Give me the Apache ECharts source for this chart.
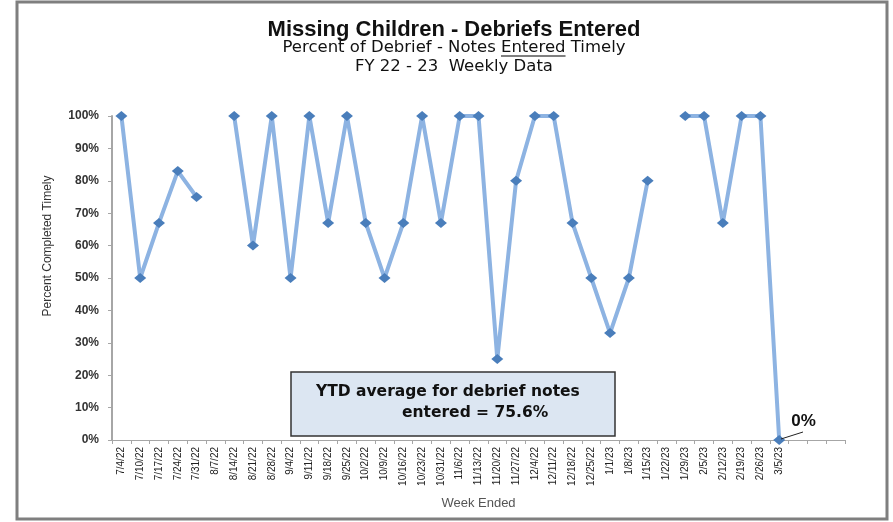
<!DOCTYPE html>
<html>
<head>
<meta charset="utf-8">
<script src="https://cdn.jsdelivr.net/npm/echarts@6/dist/echarts.min.js"></script>
<style>
html,body{margin:0;padding:0;background:#fff;}
#chart{width:893px;height:522px;}
</style>
</head>
<body>
<div id="chart"></div>
<script>
var categories = ['7/4/22','7/10/22','7/17/22','7/24/22','7/31/22','8/7/22','8/14/22','8/21/22','8/28/22','9/4/22','9/11/22','9/18/22','9/25/22','10/2/22','10/9/22','10/16/22','10/23/22','10/31/22','11/6/22','11/13/22','11/20/22','11/27/22','12/4/22','12/11/22','12/18/22','12/25/22','1/1/23','1/8/23','1/15/23','1/22/23','1/29/23','2/5/23','2/12/23','2/19/23','2/26/23','3/5/23','','',''];
var percentTimely = [100,50,67,83,75,null,100,60,100,50,100,67,100,67,50,67,100,67,100,100,25,80,100,100,67,50,33,50,80,null,100,100,67,100,100,0,null,null,null];
var titleText = 'Missing Children - Debriefs Entered';
var subtitlePre = 'Percent of Debrief - Notes ';
var subtitleUnderlined = 'Entered';
var subtitlePost = ' Timely';
var subtitleLine2 = 'FY 22 - 23  Weekly Data';
var ytdLine1 = 'YTD average for debrief notes';
var ytdLine2 = 'entered = 75.6%';
var lastLabel = '0%';
var yAxisTitle = 'Percent Completed Timely';

var chart = echarts.init(document.getElementById('chart'));
var narrow = '"Liberation Sans Narrow", "Arial Narrow", "Liberation Sans", sans-serif';

var subFont = '16.5px "DejaVu Sans", sans-serif';
var titleCx = 454;
var mctx = document.createElement('canvas').getContext('2d');
mctx.font = subFont;
var line1 = subtitlePre + subtitleUnderlined + subtitlePost;
var totalW = mctx.measureText(line1).width;
var preW = mctx.measureText(subtitlePre).width;
var ulW = mctx.measureText(subtitleUnderlined).width;
var ulX1 = titleCx - totalW / 2 + preW;

var seriesData = percentTimely.map(function(v, i){
  if (i === 35) {
    return {value: v, label: {show: true, formatter: lastLabel, position: 'right', distance: 0,
      offset: [6, -19],
      fontFamily: 'Liberation Sans', fontWeight: 'bold', fontSize: 17, color: '#111'}};
  }
  return v;
});

chart.setOption({
  animation: false,
  grid: {left: 112, right: 48, top: 116, bottom: 82},
  xAxis: {
    type: 'category',
    data: categories,
    name: 'Week Ended',
    nameLocation: 'middle',
    nameGap: 57,
    nameTextStyle: {fontFamily: 'Liberation Sans', fontSize: 13, color: '#555'},
    axisLine: {lineStyle: {color: '#a6a6a6', width: 1}},
    axisTick: {show: true, alignWithLabel: false, length: 4, lineStyle: {color: '#a6a6a6'}},
    axisLabel: {interval: 0, rotate: 90, fontFamily: narrow, fontSize: 10, color: '#222', margin: 7}
  },
  yAxis: {
    type: 'value',
    min: 0, max: 100, interval: 10,
    axisLine: {show: true, lineStyle: {color: '#a6a6a6', width: 2}},
    axisTick: {show: true, length: 4, lineStyle: {color: '#a6a6a6'}},
    splitLine: {show: false},
    axisLabel: {fontFamily: 'Liberation Sans', fontSize: 12, fontWeight: 'bold', color: '#333', margin: 13,
      formatter: function(v){ return v + '%'; }}
  },
  series: [{
    type: 'line',
    data: seriesData,
    connectNulls: false,
    symbol: 'diamond',
    symbolSize: [12, 10],
    showAllSymbol: true,
    lineStyle: {color: '#8db3e2', width: 4},
    itemStyle: {color: '#4a7ebb'},
    z: 3
  }],
  graphic: [
    {type: 'rect', shape: {x: 17, y: 2, width: 870, height: 517}, style: {fill: 'none', stroke: '#7f7f7f', lineWidth: 3}, z: 0},
    {type: 'text', x: titleCx, y: 30, style: {text: titleText, font: 'bold 22px "Liberation Sans", sans-serif', fill: '#111', align: 'center', verticalAlign: 'middle'}},
    {type: 'text', x: titleCx, y: 48, style: {text: line1, font: subFont, fill: '#111', align: 'center', verticalAlign: 'middle'}},
    {type: 'text', x: titleCx, y: 67, style: {text: subtitleLine2, font: subFont, fill: '#111', align: 'center', verticalAlign: 'middle'}},
    {type: 'line', shape: {x1: ulX1, y1: 56, x2: ulX1 + ulW, y2: 56}, style: {stroke: '#555', lineWidth: 1.5}},
    {type: 'text', x: 48, y: 246, rotation: Math.PI / 2,
      style: {text: yAxisTitle, font: '12px "Liberation Sans Narrow", "Liberation Sans", sans-serif', fill: '#333', align: 'center', verticalAlign: 'middle'}},
    {type: 'line', shape: {x1: 781, y1: 439, x2: 803, y2: 432}, style: {stroke: '#222', lineWidth: 1}, z: 4},
    {type: 'rect', shape: {x: 291, y: 372, width: 324, height: 64}, style: {fill: '#dce6f2', stroke: '#333', lineWidth: 1.5}, z: 5},
    {type: 'text', x: 316, y: 392, style: {text: ytdLine1, font: 'bold 15.5px "DejaVu Sans", sans-serif', fill: '#111', verticalAlign: 'middle'}, z: 6},
    {type: 'text', x: 402, y: 413, style: {text: ytdLine2, font: 'bold 15.5px "DejaVu Sans", sans-serif', fill: '#111', verticalAlign: 'middle'}, z: 6}
  ]
});
</script>
</body>
</html>
